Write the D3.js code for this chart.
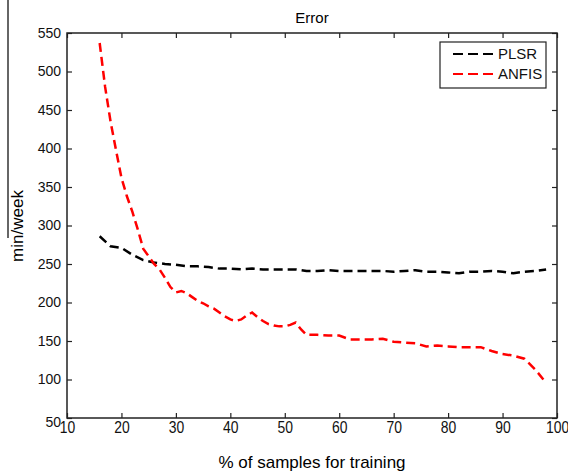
<!DOCTYPE html>
<html>
<head>
<meta charset="utf-8">
<script src="https://cdn.jsdelivr.net/npm/d3@7"></script>
<style>
    body { margin: 0; background: #fff; }
    svg { display: block; font-family: "Liberation Sans", Arial, sans-serif; }
</style>
</head>
<body>
<div id="chart"></div>
<script>
// values
const xTicks = [10, 20, 30, 40, 50, 60, 70, 80, 90, 100];
const yTicks = [50, 100, 150, 200, 250, 300, 350, 400, 450, 500, 550];

const plsrX = [16, 18, 20, 22, 24, 26, 28, 30, 32, 34, 36, 38, 40, 42, 44, 46, 48, 50, 52, 54, 56, 58, 60, 62, 64, 66, 68, 70, 72, 74, 76, 78, 80, 82, 84, 86, 88, 90, 92, 94, 96, 98];
const plsrY = [286, 273, 271, 262, 255, 252, 250, 249, 247, 247, 246, 244, 244, 243, 244, 243, 243, 243, 243, 241, 241, 242, 241, 241, 241, 241, 241, 240, 241, 242, 240, 240, 239, 238, 240, 240, 241, 240, 238, 240, 241, 243];

const anfisX = [16, 17, 18, 19, 20, 21, 22, 23, 24, 25, 26, 27, 28, 29, 30, 31, 32, 33, 34, 35, 36, 37, 38, 39, 40, 41, 42, 43, 44, 45, 46, 47, 48, 49, 50, 51, 52, 53, 54, 56, 58, 60, 62, 64, 66, 68, 70, 72, 74, 76, 78, 80, 82, 84, 86, 88, 90, 92, 94, 96, 97.5];
const anfisY = [537, 480, 435, 398, 362, 338, 318, 295, 270, 260, 250, 243, 232, 220, 213, 215, 212, 207, 202, 199, 195, 192, 187, 182, 178, 176, 178, 183, 187, 181, 176, 172, 170, 169, 169, 171, 174, 165, 158, 158, 157, 157, 152, 152, 152, 153, 149, 148, 147, 143, 144, 143, 142, 142, 142, 137, 133, 131, 127, 113, 100];

const series = [
    {name: 'PLSR', xs: plsrX, ys: plsrY, color: '#000000'},
    {name: 'ANFIS', xs: anfisX, ys: anfisY, color: '#ff0000'}
];

const W = 568, H = 473;
const margin = {top: 33, right: 11, bottom: 55, left: 67};
const width = W - margin.left - margin.right;
const height = H - margin.top - margin.bottom;

const svg = d3.select('#chart')
    .append('svg')
    .attr('width', W)
    .attr('height', H);

// stray crop edge seen at the left of the reference
svg.append('line')
    .attr('x1', 8).attr('x2', 8)
    .attr('y1', 0).attr('y2', 238)
    .attr('stroke', '#333')
    .attr('stroke-width', 1.5);

const g = svg.append('g')
    .attr('transform', `translate(${margin.left}, ${margin.top})`);

const x = d3.scaleLinear().domain([10, 100]).range([0, width]);
const y = d3.scaleLinear().domain([50, 550]).range([height, 0]);

// axes, MATLAB style with inward ticks on all four sides
const styleAxis = sel => {
    sel.select('.domain').remove();
    sel.selectAll('.tick line').attr('stroke', '#222').attr('stroke-width', 1.2);
    sel.selectAll('.tick text')
        .attr('fill', '#111')
        .style('font-size', '14px');
};

const xAxis = g.append('g')
    .attr('transform', `translate(0, ${height})`)
    .call(d3.axisBottom(x).tickValues(xTicks).tickSizeInner(-5).tickSizeOuter(0).tickPadding(3))
    .call(styleAxis);
// x labels in the reference are tall and narrow
xAxis.selectAll('.tick text')
    .style('font-size', '17px')
    .attr('transform', 'scale(0.82,1)');

g.append('g')
    .call(d3.axisTop(x).tickValues(xTicks).tickSizeInner(-5).tickSizeOuter(0).tickFormat(''))
    .call(styleAxis);
const yAxis = g.append('g')
    .call(d3.axisLeft(y).tickValues(yTicks).tickSizeInner(-5).tickSizeOuter(0).tickPadding(6))
    .call(styleAxis);
yAxis.selectAll('.tick text')
    .filter(d => d === 50)
    .attr('dy', '0.62em');
g.append('g')
    .attr('transform', `translate(${width}, 0)`)
    .call(d3.axisRight(y).tickValues(yTicks).tickSizeInner(-5).tickSizeOuter(0).tickFormat(''))
    .call(styleAxis);

g.append('rect')
    .attr('width', width)
    .attr('height', height)
    .attr('fill', 'none')
    .attr('stroke', '#222')
    .attr('stroke-width', 1.5);

// lines
const line = d3.line()
    .x(d => x(d[0]))
    .y(d => y(d[1]));

series.forEach(s => {
    g.append('path')
        .datum(s.xs.map((v, i) => [v, s.ys[i]]))
        .attr('d', line)
        .attr('fill', 'none')
        .attr('stroke', s.color)
        .attr('stroke-width', 2.5)
        .attr('stroke-dasharray', '9,5');
});

// legend
const legend = g.append('g')
    .attr('transform', `translate(${440 - margin.left}, ${42 - margin.top})`);
legend.append('rect')
    .attr('width', 106)
    .attr('height', 46)
    .attr('fill', '#fff')
    .attr('stroke', '#222')
    .attr('stroke-width', 1.2);
series.forEach((s, i) => {
    const ly = 12 + i * 20;
    legend.append('line')
        .attr('x1', 13).attr('x2', 57)
        .attr('y1', ly).attr('y2', ly)
        .attr('stroke', s.color)
        .attr('stroke-width', 2)
        .attr('stroke-dasharray', '10,5');
    legend.append('text')
        .attr('x', 58)
        .attr('y', ly + 5)
        .style('font-size', '15px')
        .attr('fill', '#111')
        .text(s.name);
});

// titles
svg.append('text')
    .attr('x', margin.left + width / 2)
    .attr('y', 23)
    .attr('text-anchor', 'middle')
    .style('font-size', '15px')
    .text('Error');
svg.append('text')
    .attr('x', margin.left + width / 2)
    .attr('y', 468)
    .attr('text-anchor', 'middle')
    .style('font-size', '17px')
    .text('% of samples for training');
svg.append('text')
    .attr('text-anchor', 'middle')
    .attr('transform', `translate(23, 226) rotate(-90)`)
    .style('font-size', '17px')
    .text('min/week');
</script>
</body>
</html>
